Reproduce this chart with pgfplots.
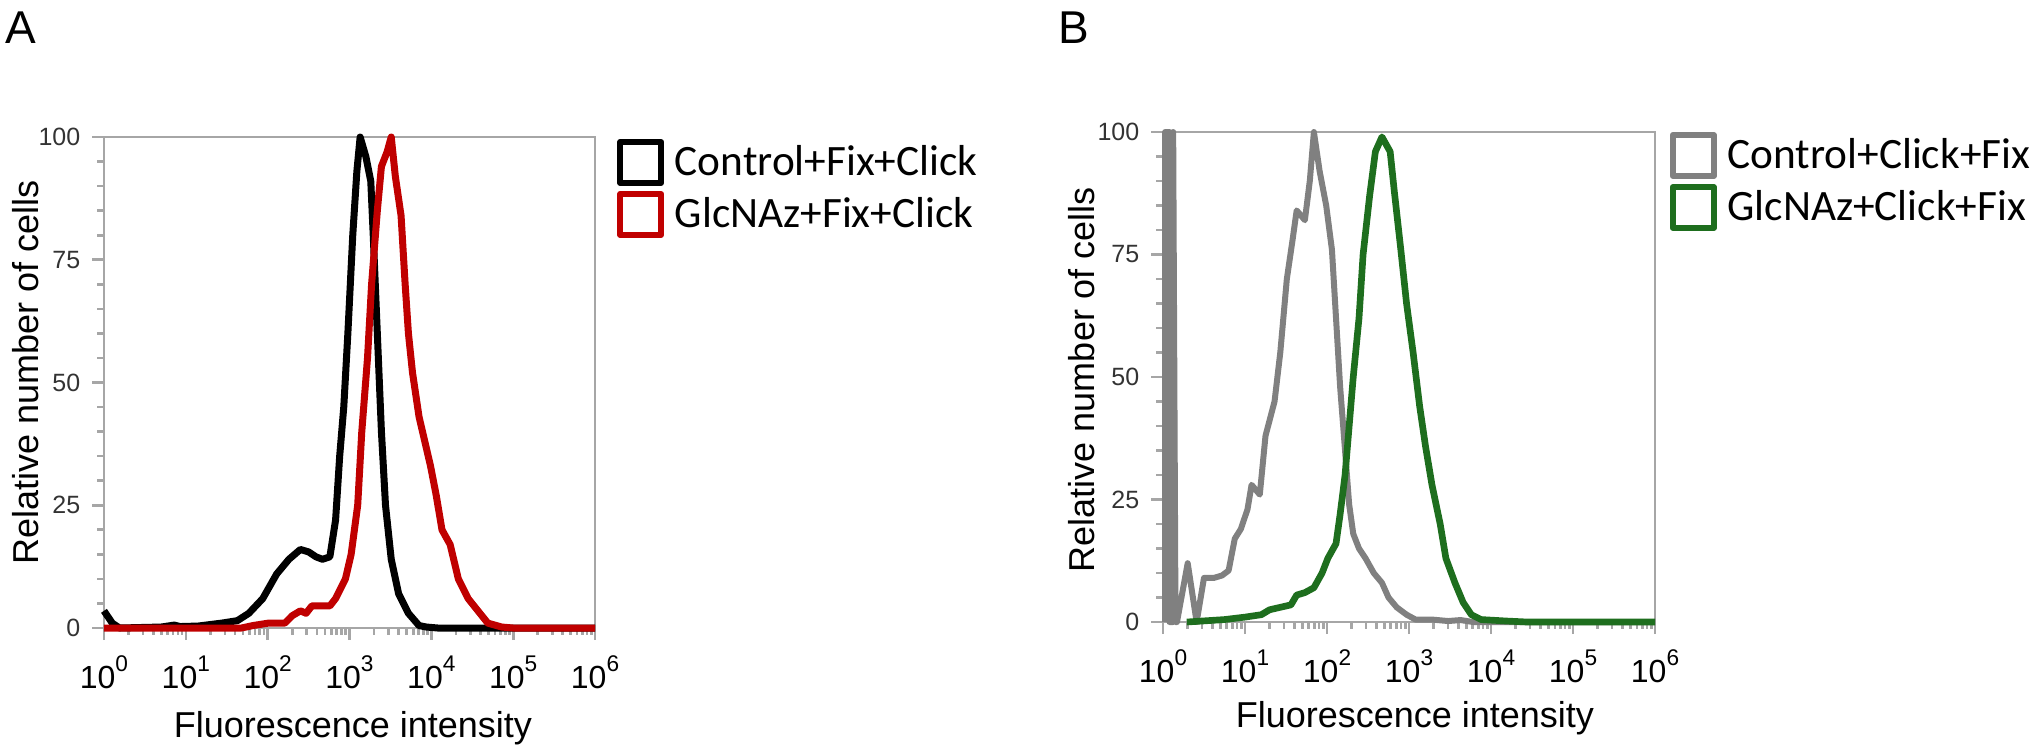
\documentclass[border=0pt]{standalone}
\usepackage{fontspec}
\setmainfont{Liberation Sans}
\newfontfamily\carlito{Carlito}
\usepackage{pgfplots}
\pgfplotsset{compat=1.18}
\definecolor{framegray}{RGB}{166,166,166}
\definecolor{cred}{RGB}{192,0,0}
\definecolor{cgreen}{RGB}{30,110,30}
\definecolor{cgray}{RGB}{128,128,128}
\newcommand{\tl}[1]{10\raisebox{5pt}{\fontsize{6.8pt}{7pt}\selectfont #1}}
\begin{document}
\begin{tikzpicture}
\path[use as bounding box] (0,0) rectangle (612pt,-225pt);
\node[anchor=base west, inner sep=0pt, font=\fontsize{13.8pt}{16pt}\selectfont] at (1.5pt,-12.9pt) {A};
\node[anchor=base west, inner sep=0pt, font=\fontsize{13.8pt}{16pt}\selectfont] at (317.4pt,-12.9pt) {B};

% Panel A
\begin{axis}[at={(31.2pt,-188.4pt)}, anchor=south west,
    scale only axis, width=147.3pt, height=147.3pt,
    xmode=log, xmin=1, xmax=1e6, ymin=0, ymax=100,
    clip=false,
    axis line style={framegray, line width=0.8pt},
    tick style={framegray, line width=0.8pt},
    tick align=outside,
    xtick pos=bottom, ytick pos=left,
    major tick length=3.6pt, minor tick length=2pt,
    xtick={1,10,100,1000,10000,100000,1000000},
    xticklabels={\tl{0},\tl{1},\tl{2},\tl{3},\tl{4},\tl{5},\tl{6}},
    minor xtick={2,3,4,5,6,7,8,9,20,30,40,50,60,70,80,90,200,300,400,500,600,700,800,900,2000,3000,4000,5000,6000,7000,8000,9000,20000,30000,40000,50000,60000,70000,80000,90000,200000,300000,400000,500000,600000,700000,800000,900000},
    ytick={0,25,50,75,100},
    yticklabels={0,25,50,75,100},
    minor ytick={5,10,15,20,30,35,40,45,55,60,65,70,80,85,90,95},
    xticklabel style={font=\fontsize{9.6pt}{10pt}\selectfont, text=black, yshift=-1.2pt},
    yticklabel style={font=\fontsize{7.5pt}{9pt}\selectfont, text=black!80},
    legend cell align=left,
    legend image code/.code={\draw[line width=1.8pt] (0pt,-6.15pt) rectangle (12.3pt,6.15pt);},
    legend style={draw=none, fill=none, inner sep=0pt, outer sep=0pt,
      font=\carlito\fontsize{13pt}{15pt}\selectfont, row sep=1.5pt,
      nodes={inner sep=1pt},
      /tikz/every odd column/.append style={column sep=2.2pt},
      at={(axis description cs:1.045,0.996)}, anchor=north west},
  xlabel={Fluorescence intensity}, ylabel={Relative number of cells},
  xlabel style={at={(axis description cs:0.507,-0.222)}, anchor=base, font=\fontsize{10.8pt}{13pt}\selectfont},
  ylabel style={at={(axis description cs:-0.134,0.52)}, anchor=base, font=\fontsize{10.8pt}{13pt}\selectfont}]
\addplot[black, line width=2.1pt, line join=round] coordinates {
(1,3.5) (1.26,1) (1.55,0) (5,0.2) (7.24,0.6) (8.5,0.3) (14.13,0.4) (27.54,1) (42.66,1.5) (58.88,3) (87.10,6) (128.8,11) (182.0,14) (251.2,16) (316.2,15.5) (389.0,14.5) (467.7,14) (575.4,14.5) (676.1,22) (758.6,35) (851.1,45) (955.0,60) (1096,80) (1230,93) (1349,100) (1585,96) (1820,91) (1950,80) (2188,60) (2455,40) (2754,25) (3236,14) (3981,7) (5248,3) (7079,0.5) (8710,0.2) (12000,0) (1000000,0)
};
\addlegendentry{Control+Fix+Click}
\addplot[cred, line width=2.1pt, line join=round] coordinates {
(1,0) (47.86,0) (66.07,0.5) (102.3,1) (162.2,1) (199.5,2.5) (251.2,3.5) (295.1,3) (346.7,4.5) (436.5,4.5) (575.4,4.5) (676.1,6) (891.3,10) (1047,15) (1259,25) (1413,40) (1660,55) (1862,70) (2188,85) (2455,94) (2884,97) (3236,100) (3631,92) (4266,84) (4786,70) (5248,60) (5888,52) (7079,43) (8318,38) (9772,33) (11480,27) (13490,20) (16980,17) (21380,10) (28180,6) (37150,3.5) (48980,1) (72440,0.2) (100000,0) (1000000,0)
};
\addlegendentry{GlcNAz+Fix+Click}
\end{axis}

% Panel B
\begin{axis}[at={(348.9pt,-186.6pt)}, anchor=south west,
    scale only axis, width=147.6pt, height=147pt,
    xmode=log, xmin=1, xmax=1e6, ymin=0, ymax=100,
    clip=false,
    axis line style={framegray, line width=0.8pt},
    tick style={framegray, line width=0.8pt},
    tick align=outside,
    xtick pos=bottom, ytick pos=left,
    major tick length=3.6pt, minor tick length=2pt,
    xtick={1,10,100,1000,10000,100000,1000000},
    xticklabels={\tl{0},\tl{1},\tl{2},\tl{3},\tl{4},\tl{5},\tl{6}},
    minor xtick={2,3,4,5,6,7,8,9,20,30,40,50,60,70,80,90,200,300,400,500,600,700,800,900,2000,3000,4000,5000,6000,7000,8000,9000,20000,30000,40000,50000,60000,70000,80000,90000,200000,300000,400000,500000,600000,700000,800000,900000},
    ytick={0,25,50,75,100},
    yticklabels={0,25,50,75,100},
    minor ytick={5,10,15,20,30,35,40,45,55,60,65,70,80,85,90,95},
    xticklabel style={font=\fontsize{9.6pt}{10pt}\selectfont, text=black, yshift=-1.2pt},
    yticklabel style={font=\fontsize{7.5pt}{9pt}\selectfont, text=black!80},
    legend cell align=left,
    legend image code/.code={\draw[line width=1.8pt] (0pt,-6.15pt) rectangle (12.3pt,6.15pt);},
    legend style={draw=none, fill=none, inner sep=0pt, outer sep=0pt,
      font=\carlito\fontsize{13pt}{15pt}\selectfont, row sep=1.5pt,
      nodes={inner sep=1pt},
      /tikz/every odd column/.append style={column sep=2.2pt},
      at={(axis description cs:1.03,1.0)}, anchor=north west},
  xlabel={Fluorescence intensity}, ylabel={Relative number of cells},
  xlabel style={at={(axis description cs:0.512,-0.216)}, anchor=base, font=\fontsize{10.8pt}{13pt}\selectfont},
  ylabel style={at={(axis description cs:-0.140,0.494)}, anchor=base, font=\fontsize{10.8pt}{13pt}\selectfont}]
\addplot[cgray, line width=1.8pt, line join=round] coordinates {
(1.06,0) (1.06,100) (1.2,100) (1.2,0) (1.33,0) (1.33,100) (1.42,0) (1.48,0) (2.0,12) (2.57,0) (3.16,9) (4.17,9) (5.25,9.5) (6.31,10.5) (7.50,17) (8.91,19) (10.72,23) (12.02,28) (15.14,26) (17.78,38) (22.91,45) (26.92,55) (32.36,70) (38.02,78) (42.66,84) (53.70,82) (61.66,90) (69.18,100) (81.28,92) (97.72,85) (114.8,76) (128.8,62) (144.5,48) (166.0,35) (186.2,24) (208.9,18) (245.5,15) (295.1,13) (371.5,10) (467.7,8) (562.3,5) (707.9,3) (933.3,1.5) (1202,0.5) (1905,0.5) (3000,0.2) (4266,0.4) (6026,0) (1000000,0)
};
\addlegendentry{Control+Click+Fix}
\addplot[cgreen, line width=2pt, line join=round] coordinates {
(1.95,0) (5.62,0.5) (10,1) (15.85,1.5) (19.95,2.5) (26.92,3) (36.31,3.5) (42.66,5.5) (53.70,6) (69.18,7) (87.10,10) (102.3,13) (128.8,16) (144.5,22) (166.0,30) (186.2,40) (208.9,50) (245.5,62) (275.4,75) (331.1,87) (389.0,96) (467.7,99) (588.8,96) (660.7,88) (794.3,76) (933.3,65) (1122,55) (1349,44) (1585,36) (1905,28) (2399,20) (2818,13) (3631,8) (4571,4) (5754,1.5) (7586,0.5) (15490,0.2) (27540,0) (1000000,0)
};
\addlegendentry{GlcNAz+Click+Fix}
\end{axis}
\end{tikzpicture}
\end{document}
